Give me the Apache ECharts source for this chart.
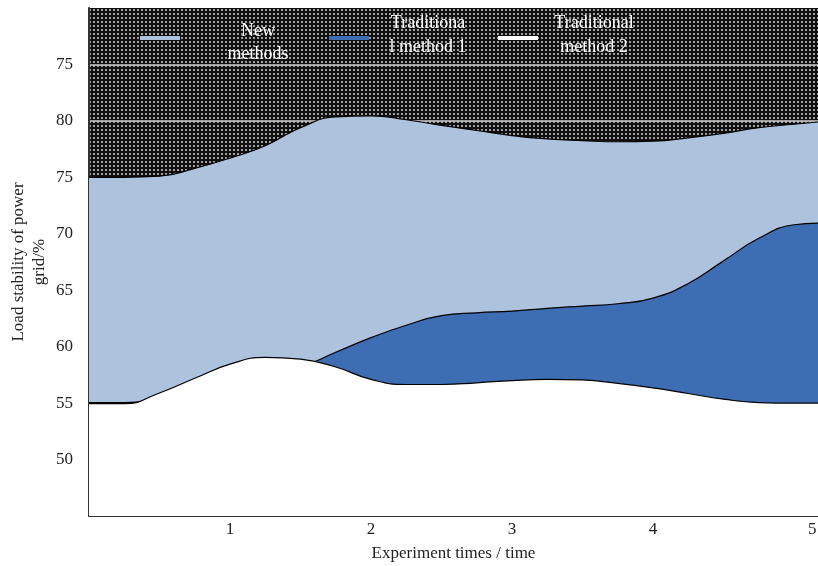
<!DOCTYPE html>
<html><head><meta charset="utf-8">
<script src="https://cdn.jsdelivr.net/npm/echarts@6/dist/echarts.min.js"></script>
<style>html,body{margin:0;padding:0;background:#fff}#c{width:818px;height:566px}</style>
</head><body><div id="c"></div>
<script>
const xValues = [0,0.25,0.5,0.75,1,1.25,1.5,1.75,2,2.25,2.5,2.75,3,3.25,3.5,3.75,4,4.25,4.5,4.75,5,5.17];
const newMethods   = [75.0,75.0,75.1,75.8,76.7,77.8,79.4,80.35,80.45,80.1,79.6,79.15,78.7,78.4,78.25,78.15,78.2,78.5,78.9,79.4,79.7,79.9];
const traditional1 = [55.05,55.05,55.4,56.0,56.8,57.6,58.2,59.5,60.8,61.9,62.75,63.0,63.15,63.4,63.6,63.8,64.3,65.6,67.6,69.6,70.8,70.95];
const traditional2 = [54.95,54.95,55.9,57.2,58.45,59.05,58.9,58.2,57.1,56.65,56.65,56.8,57.0,57.1,57.05,56.75,56.35,55.85,55.35,55.05,55.0,55.0];
const seriesNames = ['New methods','Traditional method 1','Traditional method 2'];
const legendLines = [['New','methods'],['Traditiona','l method 1'],['Traditional','method 2']];
const yTickValues = [50,55,60,65,70,75,80,85];
const yTickLabels = ['50','55','60','65','70','75','80','75'];
const xTickValues = [1,2,3,4,5.13];
const xTickLabels = ['1','2','3','4','5'];

const fills = ['#adc2dd','#3d6db2','#ffffff'];
const FONT = 'Liberation Serif';

const pc = document.createElement('canvas');
pc.width = 4; pc.height = 4;
const pctx = pc.getContext('2d');
pctx.fillStyle = '#101010'; pctx.fillRect(0,0,4,4);
pctx.fillStyle = '#a0a0a0'; pctx.fillRect(1,1,2,2);

function mkLegend(i, left, w, top, lh, pad) {
  return {
    left: left, top: top, padding: 0, icon: 'rect', itemWidth: 40, itemHeight: 4, itemGap: 0,
    selectedMode: false,
    itemStyle: {borderWidth: 0},
    data: [{name: seriesNames[i], itemStyle: {color: fills[i], borderWidth: 0}}],
    formatter: function () { return '{t|' + legendLines[i][0] + '}\n{t|' + legendLines[i][1] + '}'; },
    textStyle: {
      color: '#fff', fontFamily: FONT, fontSize: 18, padding: pad,
      rich: {t: {width: w, align: 'center', color: '#fff', fontSize: 18, lineHeight: lh, fontFamily: FONT}}
    }
  };
}

const chart = echarts.init(document.getElementById('c'), null, {renderer: 'canvas'});
chart.setOption({
  animation: false,
  backgroundColor: '#fff',
  grid: {left: 89, right: 0, top: 8, bottom: 50, show: true, borderWidth: 0, outerBoundsMode: 'none',
         containLabel: false,
         backgroundColor: {image: pc, repeat: 'repeat'}},
  legend: [
    mkLegend(0, 140, 146, 22, 23, [9,0,0,0]),
    mkLegend(1, 329, 108, 14, 24, [0,0,6,0]),
    mkLegend(2, 498, 102, 14, 24, [0,0,6,0])
  ],
  xAxis: {
    type: 'value', min: 0, max: 5.17,
    axisLine: {show: true, onZero: false, lineStyle: {color: '#333', width: 2}},
    axisTick: {show: false},
    splitLine: {show: false},
    axisLabel: {
      customValues: xTickValues, margin: 5, fontSize: 17, fontFamily: FONT, color: '#222',
      formatter: function (v) { const k = xTickValues.indexOf(v); return k >= 0 ? xTickLabels[k] : ''; }
    },
    name: 'Experiment times / time', nameLocation: 'middle', nameGap: 29, nameMoveOverlap: false,
    nameTextStyle: {fontSize: 17, fontFamily: FONT, color: '#222'}
  },
  yAxis: {
    type: 'value', min: 45, max: 90, interval: 5,
    axisLine: {show: true, lineStyle: {color: '#333', width: 2}},
    axisTick: {show: false},
    splitLine: {show: true, showMinLine: false, showMaxLine: false, lineStyle: {color: '#d0d0d0', width: 1.5}},
    axisLabel: {
      margin: 16, fontSize: 17, fontFamily: FONT, color: '#222', showMinLabel: false, showMaxLabel: false,
      formatter: function (v) { const k = yTickValues.indexOf(v); return k >= 0 ? yTickLabels[k] : ''; }
    },
    name: 'Load stability of power\ngrid/%', nameLocation: 'middle', nameGap: 39, nameRotate: 90,
    nameMoveOverlap: false,
    nameTextStyle: {fontSize: 17, fontFamily: FONT, color: '#222', lineHeight: 21, align: 'center'}
  },
  series: [newMethods, traditional1, traditional2].map(function (d, i) {
    return {
      name: seriesNames[i], type: 'line', smooth: 0.5, symbol: 'none', z: 2 + i,
      data: xValues.map(function (x, j) { return [x, d[j]]; }),
      lineStyle: {color: '#000', width: 1.2},
      itemStyle: {color: fills[i]},
      areaStyle: {color: fills[i], opacity: 1, origin: 'start'}
    };
  })
});
</script>
</body></html>
